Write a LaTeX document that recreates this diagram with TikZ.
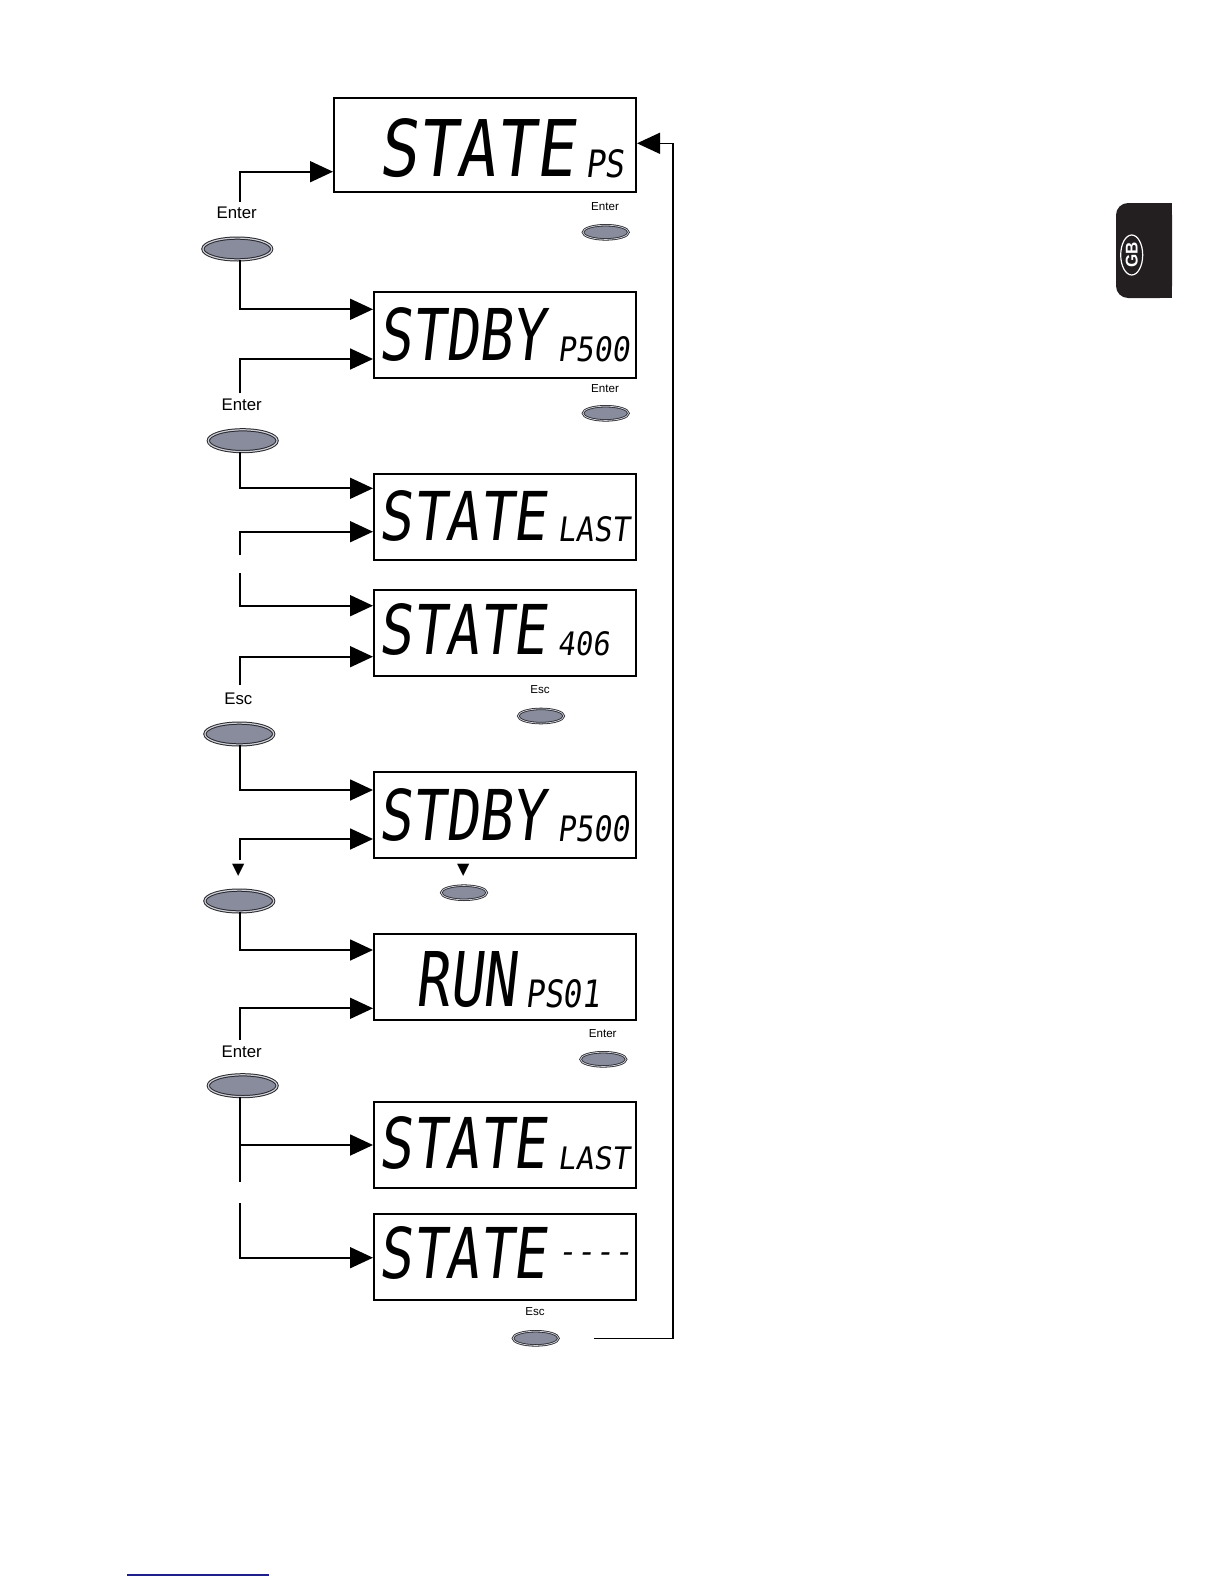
\documentclass[tikz,border=0pt]{standalone}
\usepackage{fontspec}
\setmainfont{Liberation Sans}
\newfontfamily\lcdfont{DejaVu Sans Mono}[FakeSlant=0.15]
\newfontfamily\symfont{DejaVu Sans}
\usepackage{graphicx}
\usetikzlibrary{shapes.geometric,arrows.meta}
\definecolor{btnfill}{RGB}{137,140,156}
\definecolor{btnline}{RGB}{40,40,45}
\definecolor{btnring}{RGB}{205,207,215}
\definecolor{tabblack}{RGB}{35,31,32}
\definecolor{linkblue}{RGB}{30,30,140}
\newcommand{\lcdtxt}[3]{\resizebox{#1pt}{#2pt}{\lcdfont #3}}
\tikzset{
  lcdbox/.style={draw=black, line width=1pt, rectangle, inner sep=0pt},
  widebox/.style={lcdbox, minimum width=151pt, minimum height=47pt},
  stdbox/.style={lcdbox, minimum width=131pt, minimum height=43pt},
  lcdt/.style={inner sep=0pt, anchor=south west},
  bigbtn/.style={ellipse, inner sep=0pt, minimum width=34.4pt, minimum height=10.9pt,
    fill=btnfill, draw=btnline, double=btnring, double distance=0.6pt, line width=0.5pt},
  smallbtn/.style={ellipse, inner sep=0pt, minimum width=22.8pt, minimum height=7.1pt,
    fill=btnfill, draw=btnline, double=btnring, double distance=0.4pt, line width=0.4pt},
  conn/.style={line width=0.9pt, draw=black},
  arr/.style={conn, -{Triangle[length=11.5pt,width=10.5pt]}},
  arrthin/.style={line width=0.7pt, draw=black, -{Triangle[length=11.5pt,width=10.5pt]}},
  biglabel/.style={font=\fontsize{8.4}{10}\selectfont, inner sep=0pt},
  smalllabel/.style={font=\fontsize{5.8}{7}\selectfont, inner sep=0pt},
  keysym/.style={font=\symfont\fontsize{8}{9}\selectfont, inner sep=0pt},
}
\begin{document}
\begin{tikzpicture}[x=0.5pt,y=-0.5pt]
\useasboundingbox (0,0) rectangle (1224,1584);

% display boxes
\node[widebox] (b1) at (485,145) {};
\node[stdbox] (b2) at (505,335) {};
\node[stdbox] (b3) at (505,517) {};
\node[stdbox] (b4) at (505,632.5) {};
\node[stdbox] (b5) at (505,815) {};
\node[stdbox] (b6) at (505,977) {};
\node[stdbox] (b7) at (505,1145) {};
\node[stdbox] (b8) at (505,1257) {};

% LCD texts
\node[lcdt] (s1a) at (378,178) {\lcdtxt{98}{29}{STATE}};
\node[lcdt] (s1b) at (585,178) {\lcdtxt{19.5}{14}{PS}};
\node[lcdt] (s2a) at (378,362) {\lcdtxt{83.5}{26.5}{STDBY}};
\node[lcdt] (s2b) at (557,362) {\lcdtxt{36}{12.5}{P500}};
\node[lcdt] (s3a) at (378,542) {\lcdtxt{84}{25}{STATE}};
\node[lcdt] (s3b) at (557,542) {\lcdtxt{36}{12.5}{LAST}};
\node[lcdt] (s4a) at (378,656) {\lcdtxt{84}{25.5}{STATE}};
\node[lcdt] (s4b) at (557,656) {\lcdtxt{26}{12}{406}};
\node[lcdt] (s5a) at (378,842) {\lcdtxt{83.5}{26}{STDBY}};
\node[lcdt] (s5b) at (557,842) {\lcdtxt{36}{13}{P500}};
\node[lcdt] (s6a) at (415,1008) {\lcdtxt{50.5}{27.5}{RUN}};
\node[lcdt] (s6b) at (525,1008) {\lcdtxt{37.5}{14}{PS01}};
\node[lcdt] (s7a) at (378,1170) {\lcdtxt{84}{26}{STATE}};
\node[lcdt] (s7b) at (557,1170) {\lcdtxt{36}{11.5}{LAST}};
\node[lcdt] (s8a) at (378,1280) {\lcdtxt{84}{26}{STATE}};
\node[inner sep=0pt, anchor=north west] (s8b) at (557,1252) {\resizebox{37.5pt}{!}{\lcdfont ----}};

% left key labels and buttons
\node[biglabel] (t1) at (236.7,213) {Enter};
\node[bigbtn] (L1) at (237.3,249) {};
\node[biglabel] (t2) at (241.7,405) {Enter};
\node[bigbtn] (L2) at (242.7,440.7) {};
\node[biglabel] (t3) at (238.3,698.3) {Esc};
\node[bigbtn] (L3) at (239.3,734) {};
\node[keysym] (t4) at (238.3,870) {▼};
\node[bigbtn] (L4) at (239.3,901) {};
\node[biglabel] (t5) at (241.7,1051.7) {Enter};
\node[bigbtn] (L5) at (242.7,1085.7) {};

% right key labels and buttons
\node[smalllabel] (u1) at (605,206.7) {Enter};
\node[smallbtn] (R1) at (605.7,232.3) {};
\node[smalllabel] (u2) at (605,388.3) {Enter};
\node[smallbtn] (R2) at (605.7,413.3) {};
\node[smalllabel] (u3) at (540,689.3) {Esc};
\node[smallbtn] (R3) at (541,716) {};
\node[keysym] (u4) at (463.3,870) {▼};
\node[smallbtn] (R4) at (464,892.7) {};
\node[smalllabel] (u5) at (602.7,1033.3) {Enter};
\node[smallbtn] (R5) at (603.3,1059.3) {};
\node[smalllabel] (u6) at (535,1311.7) {Esc};
\node[smallbtn] (R6) at (535.7,1338.3) {};

% connector free ends
\coordinate (e1) at (240,201.7);
\coordinate (e2) at (240,393.3);
\coordinate (e3) at (240,555);
\coordinate (e4) at (240,573.3);
\coordinate (e5) at (240,685);
\coordinate (e6) at (240,860);
\coordinate (e7) at (240,1040);
\coordinate (e8) at (240,1181.7);
\coordinate (e9) at (240,1203.3);
\coordinate (lp) at (594,1338.3);
\coordinate (lc) at (673,1338.3);

% connectors
\draw[arr] (e1) |- (b1.west |- 0,171.7);
\draw[arr] (L1.south -| e1) |- (b2.west |- 0,309.3);
\draw[arr] (e2) |- (b2.west |- 0,359);
\draw[arr] (L2.south -| e1) |- (b3.west |- 0,488.3);
\draw[arr] (e3) |- (b3.west |- 0,531.7);
\draw[arr] (e4) |- (b4.west |- 0,605.7);
\draw[arr] (e5) |- (b4.west |- 0,656.7);
\draw[arr] (L3.south -| e1) |- (b5.west |- 0,790);
\draw[arr] (e6) |- (b5.west |- 0,839);
\draw[arr] (L4.south -| e1) |- (b6.west |- 0,950);
\draw[arr] (e7) |- (b6.west |- 0,1008.3);
\draw[conn] (L5.south -| e1) -- (e8);
\draw[arr] (b7.west -| e8) -- (b7.west);
\draw[arr] (e9) |- (b8.west |- 0,1257.7);
\draw[arrthin] (lp) -- (lc) |- (b1.east |- 0,143.3);

% GB tab
\fill[tabblack, rounded corners=6pt] (1116,203) rectangle (1172,298);
\fill[tabblack] (1145,203) rectangle (1172,298);
\node[ellipse, draw=white, line width=0.6pt, minimum width=20pt, minimum height=11pt,
  inner sep=0pt, rotate=90, text=white, font=\bfseries\fontsize{8.5}{9}\selectfont] (gb) at (1131.7,255) {GB};

% bottom link underline
\draw[linkblue, line width=0.6pt] (127,1575) -- (269,1575);
\end{tikzpicture}
\end{document}
